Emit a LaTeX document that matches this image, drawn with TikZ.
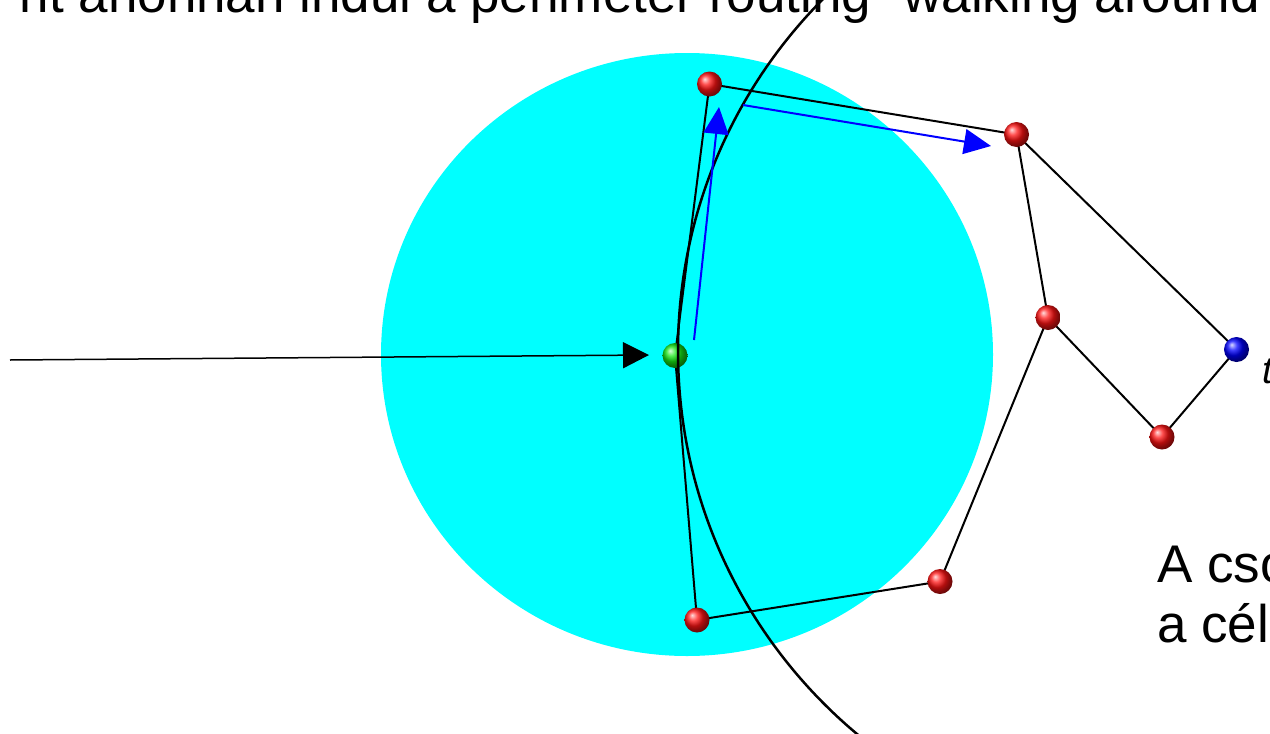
\documentclass[tikz,border=0pt]{standalone}
\usepackage{fontspec}
\setmainfont{Liberation Sans}
\usetikzlibrary{arrows.meta,backgrounds}
\definecolor{aqua}{RGB}{0,255,255}
\definecolor{pureblue}{RGB}{0,0,255}
\definecolor{purered}{RGB}{255,20,20}
\definecolor{puregreen}{RGB}{20,230,20}
\begin{document}
\begin{tikzpicture}[x=1pt,y=-1pt,
  ball/.style={circle,inner sep=0pt,minimum size=25pt,shading=ball},
  redball/.style={ball,ball color=purered},
  edge/.style={draw=black,line width=2pt},
  bigtext/.style={inner sep=0pt,font=\fontsize{53}{60}\selectfont},
  bluearrow/.style={draw=pureblue,line width=2pt,-{Triangle[length=27pt,width=25pt]}},
  blackarrow/.style={draw=black,line width=1.5pt,-{Triangle[length=26pt,width=26pt]}}]
\useasboundingbox (0,0) rectangle (1270,734);
% nodes
\node[redball] (A) at (709.5,84) {};
\node[redball] (B) at (1016.5,134.5) {};
\node[redball] (C) at (1048,317.5) {};
\node[redball] (D) at (1162,437) {};
\node[ball,ball color=pureblue] (E) at (1236.5,349.5) {};
\node[redball] (F) at (940,581.5) {};
\node[redball] (G) at (697,620) {};
\node[ball,ball color=puregreen] (S) at (675,355.5) {};
\begin{scope}[on background layer]
  \fill[aqua] (687,354.5) ellipse[x radius=306, y radius=301.5];
  \draw[edge] (A.center) -- (B.center);
  \draw[edge] (B.center) -- (E.center);
  \draw[edge] (B.center) -- (C.center);
  \draw[edge] (C.center) -- (D.center);
  \draw[edge] (D.center) -- (E.center);
  \draw[edge] (C.center) -- (F.center);
  \draw[edge] (F.center) -- (G.center);
  \draw[edge] (G.center) -- (S.center);
  \draw[edge] (S.center) -- (A.center);
\end{scope}
% big arc
\draw[line width=2.5pt] (1177.4,350.9) circle[radius=499.4];
% arrows
\coordinate (src) at (10,360);
\coordinate (srctip) at (649,355);
\draw[blackarrow] (src) -- (srctip);
\coordinate (b1s) at (694,340);
\coordinate (b1t) at (719,107);
\draw[bluearrow] (b1s) -- (b1t);
\coordinate (b2s) at (743,105);
\coordinate (b2t) at (991,146);
\draw[bluearrow] (b2s) -- (b2t);
% texts
\node[bigtext,anchor=base east] (title) at (1278,12) {nt ahonnan indul a perimeter routing "walking around"};
\node[bigtext,anchor=base west] (l1) at (1157,582) {A cso};
\node[bigtext,anchor=base west] (l2) at (1157,642) {a cél};
\node[inner sep=0pt,anchor=base west,font=\fontsize{38}{44}\selectfont\itshape] (tl) at (1262,383) {t};
\end{tikzpicture}
\end{document}
